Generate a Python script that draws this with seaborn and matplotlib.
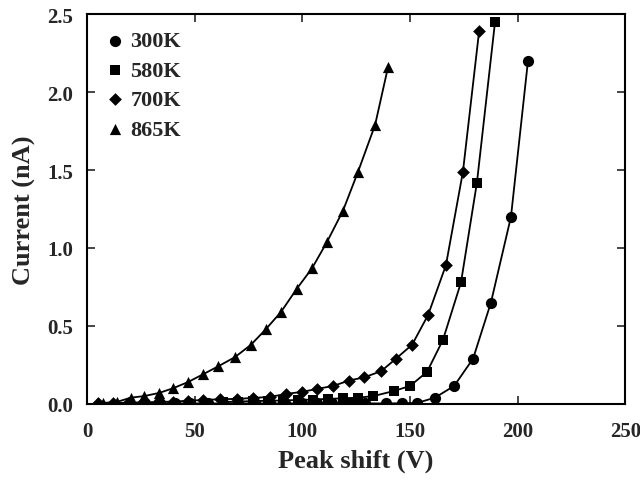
import matplotlib
matplotlib.use("Agg")
import matplotlib.pyplot as plt
import seaborn as sns
import pandas as pd

# ---- data ----
x_300 = [27, 34, 41, 48, 56, 63, 70, 78, 85, 92, 100, 107, 114, 122, 129, 138.9, 146.3, 153.3, 161.6, 170.5, 179.3, 187.6, 196.9, 204.8]
y_300 = [0.003, 0.003, 0.003, 0.003, 0.003, 0.003, 0.003, 0.003, 0.003, 0.003, 0.003, 0.003, 0.003, 0.003, 0.003, 0.003, 0.004, 0.006, 0.04, 0.115, 0.29, 0.65, 1.2, 2.2]

x_580 = [63, 70, 77, 84, 91, 98, 105, 112, 119, 126, 133, 142.6, 150, 157.9, 165.3, 173.7, 181.1, 189.5]
y_580 = [0.012, 0.015, 0.018, 0.02, 0.022, 0.025, 0.028, 0.032, 0.036, 0.04, 0.05, 0.083, 0.115, 0.205, 0.41, 0.78, 1.42, 2.45]

x_700 = [5, 12, 19, 26, 33, 40, 47, 54, 61.8, 69.7, 77.1, 85, 92.4, 99.9, 106.8, 114.3, 121.7, 128.7, 136.6, 143.5, 151, 158.4, 166.7, 174.6, 182.1]
y_700 = [0.003, 0.005, 0.008, 0.01, 0.012, 0.015, 0.02, 0.025, 0.03, 0.032, 0.038, 0.045, 0.064, 0.077, 0.096, 0.115, 0.15, 0.17, 0.21, 0.29, 0.38, 0.57, 0.89, 1.49, 2.39]

x_865 = [4.6, 7.4, 13.9, 20.4, 26.5, 33.4, 39.9, 46.9, 53.9, 60.8, 68.7, 76.2, 83.1, 90.1, 97.5, 104.5, 111.5, 118.9, 125.9, 133.8, 139.8]
y_865 = [0.006, 0.006, 0.013, 0.04, 0.05, 0.07, 0.10, 0.14, 0.19, 0.24, 0.30, 0.38, 0.48, 0.59, 0.74, 0.87, 1.04, 1.24, 1.49, 1.79, 2.16]

labels = ["300K", "580K", "700K", "865K"]
xticks = [0, 50, 100, 150, 200, 250]
yticks = [0.0, 0.5, 1.0, 1.5, 2.0, 2.5]

frames = []
for lab, xs, ys in zip(labels, [x_300, x_580, x_700, x_865], [y_300, y_580, y_700, y_865]):
    frames.append(pd.DataFrame({"T": lab, "V": xs, "I": ys}))
df = pd.concat(frames, ignore_index=True)

sns.set_style("ticks")
plt.rcParams["font.family"] = ["Liberation Serif", "DejaVu Serif"]
plt.rcParams["font.weight"] = "bold"

fig = plt.figure(figsize=(6.4, 4.89), dpi=100)
ax = fig.add_axes([0.136, 0.172, 0.841, 0.797])

sns.lineplot(data=df, x="V", y="I", units="T", estimator=None, color="black",
             linewidth=1.3, sort=False, legend=False, ax=ax)
markers = {"300K": "o", "580K": "s", "700K": "D", "865K": "^"}
sizes = {"300K": 65, "580K": 58, "700K": 42, "865K": 65}
for lab in labels:
    sub = df[df["T"] == lab]
    sns.scatterplot(data=sub, x="V", y="I", marker=markers[lab], s=sizes[lab],
                    color="black", edgecolor="black", linewidth=0, label=lab,
                    ax=ax, zorder=3)

ax.set_xlim(0, 250)
ax.set_ylim(0, 2.5)
ax.set_xticks(xticks)
ax.set_yticks(yticks)
ax.set_yticklabels([f"{v:.1f}" for v in yticks])
ax.tick_params(direction="in", length=6, width=1.2, top=True, right=True,
               labelsize=15)
ax.tick_params(axis="x", pad=12)
ax.tick_params(axis="y", pad=10)
for lbl in ax.get_xticklabels() + ax.get_yticklabels():
    lbl.set_fontweight("bold")
for sp in ax.spines.values():
    sp.set_linewidth(1.5)
    sp.set_color("black")

ax.set_xlabel("Peak shift (V)", fontsize=19, fontweight="bold", labelpad=6)
ax.set_ylabel("Current (nA)", fontsize=19, fontweight="bold", labelpad=8)

leg = ax.legend(loc="upper left", frameon=False, handletextpad=0.2,
                labelspacing=0.4, borderaxespad=0.35, handlelength=1.0,
                prop={"weight": "bold", "size": 16})

fig.savefig("out.png", dpi=100)
